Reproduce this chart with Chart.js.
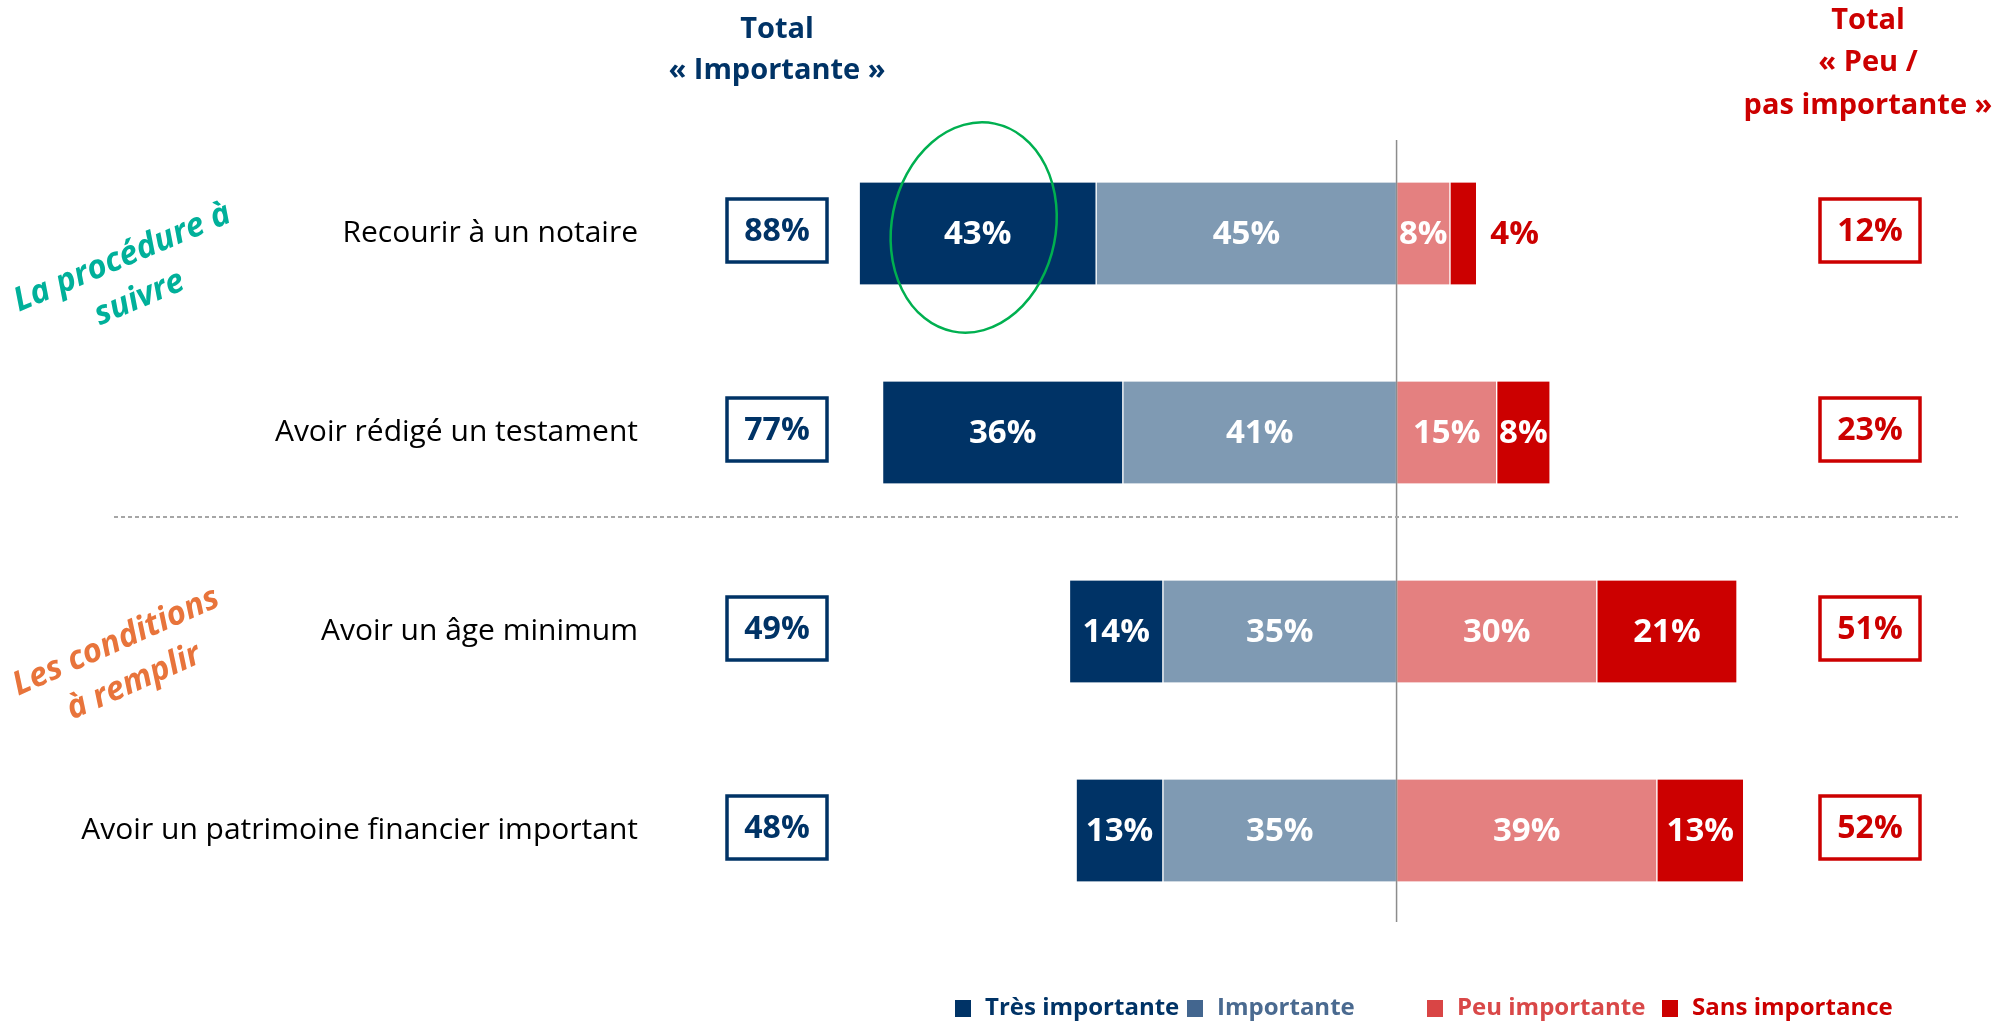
<!DOCTYPE html>
<html>
<head>
<meta charset="utf-8">
<script src="https://cdn.jsdelivr.net/npm/chart.js@4.4.0/dist/chart.umd.min.js"></script>
<style>
  html, body { margin: 0; padding: 0; background: #fff; }
  #wrap { width: 2006px; height: 1021px; position: relative; }
</style>
</head>
<body>
<div id="wrap"><canvas id="chartCanvas"></canvas></div>
<script>
const categories = [
  'Recourir à un notaire',
  'Avoir rédigé un testament',
  'Avoir un âge minimum',
  'Avoir un patrimoine financier important'
];
// printed percentages
const tresImportante = [43, 36, 14, 13];
const importante = [45, 41, 35, 35];
const peuImportante = [8, 15, 30, 39];
const sansImportance = [4, 8, 21, 13];
// bar length as drawn in the picture (row 1 dark bar is drawn shorter than its label)
const tresImportanteDrawn = [35.5, 36, 14, 13];
const totalImportante = [88, 77, 49, 48];
const totalPeuPas = [12, 23, 51, 52];

const legendItems = ['Très importante', 'Importante', 'Peu importante', 'Sans importance'];

const FONT = '"Open Sans", "Liberation Sans", sans-serif';
const NAVY = '#003366';
const RED = '#cc0000';

const overlay = {
  id: 'overlay',
  afterDatasetsDraw(chart) {
    const ctx = chart.ctx;
    const xs = chart.scales.x, ys = chart.scales.y;
    const area = chart.chartArea;
    ctx.save();

    // zero line
    const x0 = xs.getPixelForValue(0);
    ctx.strokeStyle = '#8c8c8c';
    ctx.lineWidth = 1.5;
    ctx.beginPath();
    ctx.moveTo(x0, area.top + 6);
    ctx.lineTo(x0, area.bottom - 8);
    ctx.stroke();

    // segment labels
    ctx.textAlign = 'center';
    ctx.textBaseline = 'middle';
    ctx.font = 'bold 33px ' + FONT;
    chart.data.datasets.forEach((ds, di) => {
      const meta = chart.getDatasetMeta(di);
      meta.data.forEach((bar, i) => {
        const p = bar.getProps(['x', 'y', 'base'], true);
        const w = Math.abs(p.x - p.base);
        const txt = ds.printed[i] + '%';
        if (w < 35) {
          ctx.fillStyle = RED;
          ctx.fillText(txt, Math.max(p.x, p.base) + 38, p.y + 1);
        } else {
          ctx.fillStyle = '#fff';
          ctx.fillText(txt, (p.x + p.base) / 2, p.y + 1);
        }
      });
    });

    // total boxes
    const leftX = 777, rightX = 1870, bw = 100, bh = 63;
    ctx.lineWidth = 3.5;
    ctx.font = 'bold 32px ' + FONT;
    categories.forEach((c, i) => {
      const y = ys.getPixelForValue(i) - 3;
      ctx.strokeStyle = NAVY;
      ctx.strokeRect(leftX - bw / 2, y - bh / 2, bw, bh);
      ctx.fillStyle = NAVY;
      ctx.fillText(totalImportante[i] + '%', leftX, y + 1);
      ctx.strokeStyle = RED;
      ctx.strokeRect(rightX - bw / 2, y - bh / 2, bw, bh);
      ctx.fillStyle = RED;
      ctx.fillText(totalPeuPas[i] + '%', rightX, y + 1);
    });

    // dashed separator
    const ySep = (ys.getPixelForValue(1) + ys.getPixelForValue(2)) / 2 - 15;
    ctx.strokeStyle = '#a6a6a6';
    ctx.lineWidth = 2;
    ctx.setLineDash([4, 3]);
    ctx.beginPath();
    ctx.moveTo(114, ySep);
    ctx.lineTo(1958, ySep);
    ctx.stroke();
    ctx.setLineDash([]);

    // column headers
    ctx.font = 'bold 29px ' + FONT;
    ctx.fillStyle = NAVY;
    ctx.fillText('Total', leftX, 30);
    ctx.fillText('\u00ab Importante \u00bb', leftX, 71);
    ctx.fillStyle = RED;
    ctx.fillText('Total', 1868, 21);
    ctx.fillText('\u00ab Peu /', 1868, 63);
    ctx.fillText('pas importante \u00bb', 1868, 106);

    // group labels
    ctx.font = 'italic bold 33px ' + FONT;
    ctx.save();
    ctx.translate(131, 278);
    ctx.rotate(-23 * Math.PI / 180);
    ctx.fillStyle = '#00b09a';
    ctx.fillText('La procédure à', 0, -22);
    ctx.fillText('suivre', 0, 22);
    ctx.restore();
    ctx.save();
    ctx.translate(125, 662);
    ctx.rotate(-24 * Math.PI / 180);
    ctx.fillStyle = '#e8743b';
    ctx.fillText('Les conditions', 0, -22);
    ctx.fillText('à remplir', 0, 22);
    ctx.restore();

    // green highlight ellipse
    const hb = chart.getDatasetMeta(1).data[0].getProps(['x', 'y', 'base'], true);
    ctx.strokeStyle = '#00b050';
    ctx.lineWidth = 2.5;
    ctx.beginPath();
    ctx.ellipse((hb.x + hb.base) / 2 - 4, hb.y - 6, 82, 106, 0.2, 0, Math.PI * 2);
    ctx.stroke();

    // legend
    const legX = [955, 1187, 1427, 1662];
    const legSquare = ['#003366', '#43668f', '#d94545', '#cc0000'];
    const legText = ['#003366', '#4a6a90', '#d94848', '#cc0000'];
    ctx.font = 'bold 24px ' + FONT;
    ctx.textAlign = 'left';
    legendItems.forEach((t, i) => {
      ctx.fillStyle = legSquare[i];
      ctx.fillRect(legX[i], 1000, 16, 17);
      ctx.fillStyle = legText[i];
      ctx.fillText(t, legX[i] + 30, 1008);
    });

    ctx.restore();
  }
};

const ctx = document.getElementById('chartCanvas').getContext('2d');
const chart = new Chart(ctx, {
  type: 'bar',
  data: {
    labels: categories,
    datasets: [
      { label: 'Importante', data: importante.map(v => -v), printed: importante, backgroundColor: '#7f9ab3' },
      { label: 'Très importante', data: tresImportanteDrawn.map(v => -v), printed: tresImportante, backgroundColor: '#003366' },
      { label: 'Peu importante', data: peuImportante, printed: peuImportante, backgroundColor: '#e48080' },
      { label: 'Sans importance', data: sansImportance, printed: sansImportance, backgroundColor: '#cc0000' }
    ].map(d => Object.assign(d, {
      borderColor: '#ffffff',
      borderWidth: { left: 1, right: 1, top: 0, bottom: 0 },
      borderSkipped: false,
      barThickness: 102
    }))
  },
  options: {
    indexAxis: 'y',
    responsive: true,
    maintainAspectRatio: false,
    animation: false,
    layout: { padding: { top: 134, bottom: 91, left: 0, right: 12 } },
    plugins: {
      legend: { display: false },
      tooltip: { enabled: false }
    },
    scales: {
      x: { stacked: true, min: -104.5, max: 89.5, display: false },
      y: {
        stacked: true,
        offset: true,
        grid: { display: false, drawTicks: false },
        border: { display: false },
        ticks: { color: '#000', padding: 61, font: { family: FONT, size: 30 } },
        afterFit(scale) { scale.width = 699; }
      }
    }
  },
  plugins: [overlay]
});
</script>
</body>
</html>
